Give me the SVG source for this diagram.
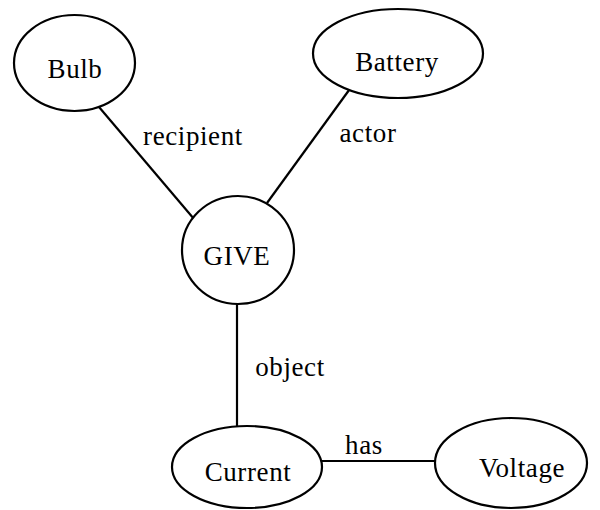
<svg xmlns="http://www.w3.org/2000/svg" width="600" height="510" viewBox="0 0 600 510">
<style>
.n{fill:#fff;stroke:#000;stroke-width:2.2}
.e{stroke:#000;stroke-width:2.2;fill:none}
text{font-family:"Liberation Serif","Times New Roman",serif;font-size:27px;letter-spacing:0.6px;fill:#000;text-anchor:middle}
</style>
<rect width="600" height="510" fill="#fff"/>
<g id="connectors">
<line class="e" x1="99" y1="107" x2="194" y2="219"/>
<line class="e" x1="352" y1="86" x2="267" y2="203"/>
<line class="e" x1="237" y1="303" x2="237" y2="426"/>
<line class="e" x1="321" y1="461" x2="435" y2="461"/>
<text x="193" y="145">recipient</text>
<text x="368" y="142">actor</text>
<text x="290" y="376">object</text>
<text x="364" y="454">has</text>
</g>
<g id="bulb"><ellipse class="n" cx="74.5" cy="63" rx="60.5" ry="48"/><text x="75" y="78">Bulb</text></g>
<g id="battery"><ellipse class="n" cx="398" cy="53.5" rx="85" ry="44.5"/><text x="397" y="71">Battery</text></g>
<g id="give"><ellipse class="n" cx="238" cy="250" rx="56" ry="54"/><text x="237" y="265">GIVE</text></g>
<g id="current"><ellipse class="n" cx="247" cy="467" rx="75" ry="41"/><text x="248" y="481">Current</text></g>
<g id="voltage"><ellipse class="n" cx="511" cy="463" rx="76" ry="45"/><text x="522" y="477">Voltage</text></g>
</svg>
